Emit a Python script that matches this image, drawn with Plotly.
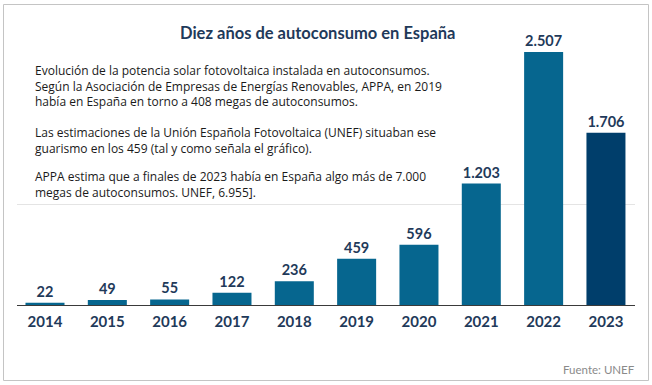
import plotly.graph_objects as go

years = ["2014", "2015", "2016", "2017", "2018", "2019", "2020", "2021", "2022", "2023"]
values = [22, 49, 55, 122, 236, 459, 596, 1203, 2507, 1706]
bar_colors = ["#06668f"] * 9 + ["#003e6b"]

title_text = "Diez años de autoconsumo en España"
paragraphs = [
    ["Evolución de la potencia solar fotovoltaica instalada en autoconsumos.",
     "Según la Asociación de Empresas de Energías Renovables, APPA, en 2019",
     "había en España en torno a 408 megas de autoconsumos."],
    ["Las estimaciones de la Unión Española Fotovoltaica (UNEF) situaban ese",
     "guarismo en los 459 (tal y como señala el gráfico)."],
    ["APPA estima que a finales de 2023 había en España algo más de 7.000",
     "megas de autoconsumos. UNEF, 6.955]."],
]
para_y_px = [85.5, 140, 184]
source_text = "Fuente: UNEF"

W, H = 652, 385
ml, mr, mt, mb = 17, 17, 20, 80
pw, ph = W - ml - mr, H - mt - mb

def px_x(x):
    return (x - ml) / pw

def px_y(y):
    return (H - mb - y) / ph

FONT = "Lato, 'Liberation Sans Narrow', 'DejaVu Sans Condensed', sans-serif"
NOTE_FONT = "'Open Sans', Lato, sans-serif"
DARK = "#1f3a5a"

fig = go.Figure(go.Bar(
    x=list(range(len(years))),
    y=values,
    marker=dict(color=bar_colors, line=dict(width=0)),
    width=0.626,
    texttemplate="%{y:,}",
    textposition="outside",
    textfont=dict(family=FONT, size=14.5, color=DARK, weight="bold"),
    cliponaxis=False,
    hoverinfo="skip",
))

annotations = [
    dict(text=title_text, x=px_x(317), y=px_y(33), xref="paper", yref="paper",
         showarrow=False, xanchor="center", yanchor="middle",
         font=dict(family=FONT, size=16.5, color=DARK, weight="bold")),
    dict(text=source_text, x=px_x(637), y=px_y(369), xref="paper", yref="paper",
         showarrow=False, xanchor="right", yanchor="middle",
         font=dict(family=FONT, size=11.5, color="#8a8a8a")),
]
for lines, yp in zip(paragraphs, para_y_px):
    annotations.append(dict(text="<br>".join(lines), x=px_x(33), y=px_y(yp),
                            xref="paper", yref="paper", align="left",
                            showarrow=False, xanchor="left", yanchor="middle",
                            font=dict(family=NOTE_FONT, size=12, color="#1a1a1a")))

fig.update_layout(
    width=W, height=H,
    margin=dict(l=ml, r=mr, t=mt, b=mb),
    paper_bgcolor="white", plot_bgcolor="white",
    separators=",.",
    showlegend=False,
    annotations=annotations,
    shapes=[dict(type="rect", xref="paper", yref="paper",
                 x0=px_x(3.5), x1=px_x(648.5), y0=px_y(380.5), y1=px_y(4.5),
                 line=dict(color="#c4c4c4", width=1), fillcolor="rgba(0,0,0,0)", layer="below")],
    xaxis=dict(range=[-0.449, 9.466], tickvals=list(range(len(years))), ticktext=years,
               showline=True, linecolor="#3a3a3a", linewidth=1, showgrid=False,
               ticks="", zeroline=False, fixedrange=True, ticklabelstandoff=3,
               tickfont=dict(family=FONT, size=15, color=DARK, weight="bold")),
    yaxis=dict(range=[0, 2824], tickvals=[1000], showticklabels=False,
               showgrid=True, gridcolor="#e4e4e4", gridwidth=1, zeroline=False,
               showline=False, ticks="", fixedrange=True),
)

fig.write_html("out.html", config={"displayModeBar": False},
               post_script="document.body.style.margin='0';document.body.style.overflow='hidden';")
